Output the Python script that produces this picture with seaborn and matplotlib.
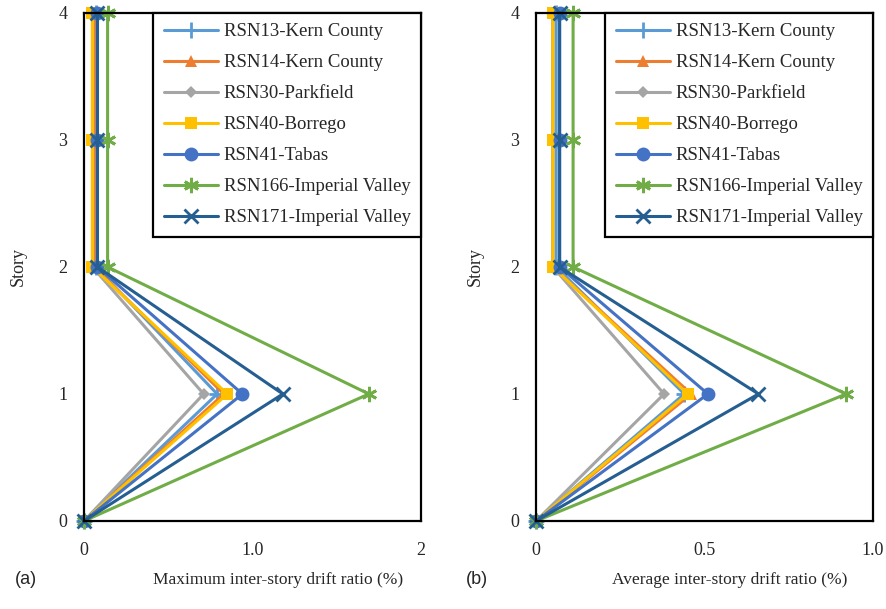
import pandas as pd
import matplotlib.pyplot as plt
import seaborn as sns

# datos
stories = [0, 1, 2, 3, 4]
records = ['RSN13-Kern County', 'RSN14-Kern County', 'RSN30-Parkfield', 'RSN40-Borrego',
           'RSN41-Tabas', 'RSN166-Imperial Valley', 'RSN171-Imperial Valley']

max_rsn13 = [0, 0.79, 0.07, 0.07, 0.07]
max_rsn14 = [0, 0.83, 0.06, 0.06, 0.06]
max_rsn30 = [0, 0.71, 0.05, 0.05, 0.05]
max_rsn40 = [0, 0.85, 0.05, 0.05, 0.05]
max_rsn41 = [0, 0.94, 0.08, 0.08, 0.08]
max_rsn166 = [0, 1.69, 0.14, 0.14, 0.14]
max_rsn171 = [0, 1.18, 0.08, 0.08, 0.08]

avg_rsn13 = [0, 0.44, 0.06, 0.06, 0.06]
avg_rsn14 = [0, 0.46, 0.05, 0.05, 0.05]
avg_rsn30 = [0, 0.38, 0.05, 0.05, 0.05]
avg_rsn40 = [0, 0.45, 0.05, 0.05, 0.05]
avg_rsn41 = [0, 0.51, 0.07, 0.07, 0.07]
avg_rsn166 = [0, 0.92, 0.11, 0.11, 0.11]
avg_rsn171 = [0, 0.66, 0.07, 0.07, 0.07]

max_values = [max_rsn13, max_rsn14, max_rsn30, max_rsn40, max_rsn41, max_rsn166, max_rsn171]
avg_values = [avg_rsn13, avg_rsn14, avg_rsn30, avg_rsn40, avg_rsn41, avg_rsn166, avg_rsn171]

colors = ['#5B9BD5', '#ED7D31', '#A5A5A5', '#FFC000', '#4472C4', '#70AD47', '#255E91']
markers = ['+', '^', 'D', 's', 'o', (6, 2, 0), 'x']
msizes = [11, 9, 6, 9, 10, 11, 10]

sns.set_style('white')
plt.rcParams['font.family'] = ['Liberation Serif', 'DejaVu Serif']

fig = plt.figure(figsize=(8.87, 6.09), dpi=100)
ax1 = fig.add_axes([0.0947, 0.1445, 0.380, 0.8342])
ax2 = fig.add_axes([0.6043, 0.1445, 0.380, 0.8342])


def dibujar(ax, valores, xmax, xticks, xticklabels, xlabel, ylab_x):
    for rec, vals, c, m, ms in zip(records, valores, colors, markers, msizes):
        df = pd.DataFrame({'drift': vals, 'story': stories})
        sns.lineplot(data=df, x='drift', y='story', sort=False, estimator=None, ax=ax,
                     color=c, marker=m, markersize=ms, markeredgewidth=2 if m in ('+', 'x', (6, 2, 0)) else 0,
                     markeredgecolor=c, linewidth=2.2, label=rec, clip_on=False)
    ax.set_xlim(0, xmax)
    ax.set_ylim(0, 4)
    ax.set_xticks(xticks)
    ax.set_xticklabels(xticklabels)
    ax.set_yticks(stories)
    ax.tick_params(axis='both', direction='in', labelsize=13, width=1.5, length=6)
    ax.tick_params(axis='x', pad=15)
    ax.tick_params(axis='y', pad=12)
    for s in ax.spines.values():
        s.set_color('black')
        s.set_linewidth(1.6)
    ax.set_xlabel(xlabel, fontsize=12.5)
    ax.xaxis.set_label_coords(0.575, -0.10)
    ax.set_ylabel('Story', fontsize=13)
    ax.yaxis.set_label_coords(ylab_x, 0.5)
    # leyenda arriba a la derecha, pegada al marco
    leg = ax.legend(loc='upper right', borderaxespad=0, fontsize=13.5, handlelength=2.9,
                    labelspacing=0.74, fancybox=False, edgecolor='black', framealpha=1,
                    handletextpad=0.3, borderpad=0.55)
    leg.get_frame().set_linewidth(1.6)


dibujar(ax1, max_values, 2, [0, 1, 2], ['0', '1.0', '2'], 'Maximum inter-story drift ratio (%)', -0.17)
dibujar(ax2, avg_values, 1, [0, 0.5, 1.0], ['0', '0.5', '1.0'], 'Average inter-story drift ratio (%)', -0.155)

fig.text(15 / 887, 1 - 580 / 609, '(a)', fontsize=13, family='Liberation Sans', va='center')
fig.text(466 / 887, 1 - 580 / 609, '(b)', fontsize=13, family='Liberation Sans', va='center')

fig.savefig('out.png', dpi=100)
